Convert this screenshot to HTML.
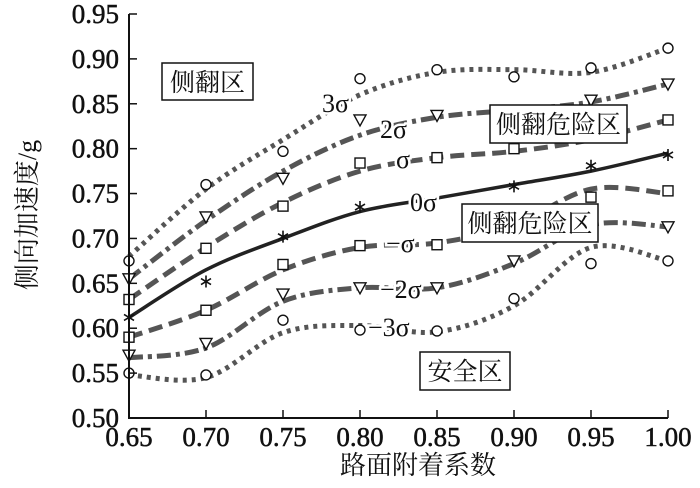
<!DOCTYPE html>
<html><head><meta charset="utf-8"><style>
body{margin:0;background:#fff;}
svg{display:block;font-family:"Liberation Serif","Noto Serif CJK SC",serif;}
</style></head><body>
<svg id="chart" width="700" height="488" viewBox="0 0 700 488">
<g id="curves"></g>
<g id="marks"></g>
<g id="axes"></g>
<text x="418" y="474" text-anchor="middle" font-size="26" fill="#111">路面附着系数</text>
<text transform="translate(36,215) rotate(-90)" text-anchor="middle" font-size="26" fill="#111">侧向加速度/g</text>
</svg>
<script>
const xCats=[0.65,0.70,0.75,0.80,0.85,0.90,0.95,1.00];
const yTicks=[0.50,0.55,0.60,0.65,0.70,0.75,0.80,0.85,0.90,0.95];
const names=["3σ","2σ","σ","0σ","-σ","-2σ","-3σ"];
const curve3=[0.68,0.755,0.81,0.86,0.885,0.888,0.885,0.912];
const curve2=[0.655,0.72,0.775,0.815,0.835,0.843,0.852,0.872];
const curve1=[0.632,0.69,0.74,0.775,0.79,0.797,0.810,0.832];
const curve0=[0.612,0.665,0.70,0.73,0.745,0.76,0.775,0.795];
const curveM1=[0.59,0.62,0.665,0.69,0.695,0.715,0.755,0.75];
const curveM2=[0.567,0.578,0.63,0.645,0.645,0.672,0.715,0.713];
const curveM3=[0.548,0.545,0.595,0.603,0.596,0.625,0.69,0.675];
const pts3=[0.675,0.76,0.797,0.878,0.888,0.880,0.890,0.912];
const pts2=[0.655,0.724,0.767,0.832,0.837,null,0.854,0.872];
const pts1=[0.632,0.689,0.736,0.784,0.790,0.800,null,0.832];
const pts0=[0.612,0.652,0.702,0.735,null,0.758,0.781,0.793];
const ptsM1=[0.59,0.62,0.671,0.692,0.693,null,0.746,0.753];
const ptsM2=[0.57,0.583,0.638,0.645,0.645,0.675,0.71,0.713];
const ptsM3=[0.55,0.548,0.609,0.598,0.597,0.633,0.672,0.675];
const NS="http://www.w3.org/2000/svg";
const X0=129,X1=668,Y0=418,Y1=14;
function sx(v){return X0+(v-0.65)/0.35*(X1-X0);}
function sy(v){return Y0-(v-0.5)/0.45*(Y0-Y1);}
function mk(t,a,p){const e=document.createElementNS(NS,t);for(const k in a)e.setAttribute(k,a[k]);p.appendChild(e);return e;}
const series=[
 {c:curve3,p:pts3,m:"circle",st:{stroke:"#555","stroke-width":5,"stroke-dasharray":"4 5",fill:"none"}},
 {c:curve2,p:pts2,m:"tri",st:{stroke:"#555","stroke-width":5,"stroke-dasharray":"14 5 4 5",fill:"none"}},
 {c:curve1,p:pts1,m:"square",st:{stroke:"#555","stroke-width":5,"stroke-dasharray":"14 7",fill:"none"}},
 {c:curve0,p:pts0,m:"star",st:{stroke:"#222","stroke-width":3.5,fill:"none"}},
 {c:curveM1,p:ptsM1,m:"square",st:{stroke:"#555","stroke-width":5,"stroke-dasharray":"14 7",fill:"none"}},
 {c:curveM2,p:ptsM2,m:"tri",st:{stroke:"#555","stroke-width":5,"stroke-dasharray":"14 5 4 5",fill:"none"}},
 {c:curveM3,p:ptsM3,m:"circle",st:{stroke:"#555","stroke-width":5,"stroke-dasharray":"4 5",fill:"none"}}
];
const gC=document.getElementById('curves'),gM=document.getElementById('marks'),gA=document.getElementById('axes');
const svg=document.getElementById('chart');
series.forEach((s,i)=>{
 const P=s.c.map((v,j)=>[sx(xCats[j]),sy(v)]);
 let d="M"+P[0][0]+","+P[0][1];
 for(let j=0;j<P.length-1;j++){
  const p0=P[Math.max(0,j-1)],p1=P[j],p2=P[j+1],p3=P[Math.min(P.length-1,j+2)];
  const c1=[p1[0]+(p2[0]-p0[0])/6,p1[1]+(p2[1]-p0[1])/6],c2=[p2[0]-(p3[0]-p1[0])/6,p2[1]-(p3[1]-p1[1])/6];
  d+=" C"+c1+" "+c2+" "+p2;
 }
 const path=mk("path",Object.assign({d:d},s.st),gC);
 
 
 s.p.forEach((v,j)=>{
  if(v===null)return;
  const x=sx(xCats[j]),y=sy(v);let e;
  const st={fill:"#fff",stroke:"#111","stroke-width":1.4};
  if(s.m==="circle")e=mk("circle",Object.assign({cx:x,cy:y,r:5},st),gM);
  else if(s.m==="square")e=mk("rect",Object.assign({x:x-5,y:y-5,width:10,height:10},st),gM);
  else if(s.m==="tri")e=mk("path",Object.assign({d:`M${x-6},${y-5}L${x+6},${y-5}L${x},${y+6}Z`},st),gM);
  else e=mk("path",{d:`M${x},${y-6}V${y+6}M${x-5},${y-3}L${x+5},${y+3}M${x-5},${y+3}L${x+5},${y-3}`,stroke:"#111","stroke-width":1.6,fill:"none"},gM);
  
  
 });
});
mk("path",{d:`M${X0},${Y1}V${Y0}H${X1}`,stroke:"#111","stroke-width":2,fill:"none"},gA);
yTicks.forEach(v=>{
 const y=sy(v);
 const t=mk("line",{x1:X0,x2:X0+8,y1:y,y2:y,stroke:"#111","stroke-width":1.5},gA);
 
 
 const l=mk("text",{x:X0-10,y:y+9,"text-anchor":"end","font-size":"27",fill:"#111",stroke:"#111","stroke-width":"0.5"},gA);
 l.textContent=v.toFixed(2);
 
 
});
xCats.forEach(v=>{
 const x=sx(v);
 const t=mk("line",{x1:x,x2:x,y1:Y0,y2:Y0-8,stroke:"#111","stroke-width":1.5},gA);
 
 
 const l=mk("text",{x:x,y:Y0+28,"text-anchor":"middle","font-size":"27",fill:"#111",stroke:"#111","stroke-width":"0.5"},gA);
 l.textContent=v.toFixed(2);
 
 
});
const lbls=[["3σ",322,112],["2σ",380,138],["σ",396,168],["0σ",410,211],["−σ",386,252],["−2σ",380,298],["−3σ",368,336]];
lbls.forEach(l=>{
 const t=mk("text",{x:l[1],y:l[2],"font-size":"26",fill:"#111",stroke:"#fff","stroke-width":"5","paint-order":"stroke"},svg);
 t.textContent=l[0];
 
 
});
const boxes=[["侧翻区",162,63,91,37],["侧翻危险区",490,105,137,38],["侧翻危险区",462,204,136,38],["安全区",420,352,90,38]];
boxes.forEach(b=>{
 const r=mk("rect",{x:b[1],y:b[2],width:b[3],height:b[4],fill:"#fff",stroke:"#111","stroke-width":1.5},svg);
 
 
 const t=mk("text",{x:b[1]+b[3]/2,y:b[2]+28,"text-anchor":"middle","font-size":"25",fill:"#111"},svg);
 t.textContent=b[0];
 
 
});
</script>
</body></html>
